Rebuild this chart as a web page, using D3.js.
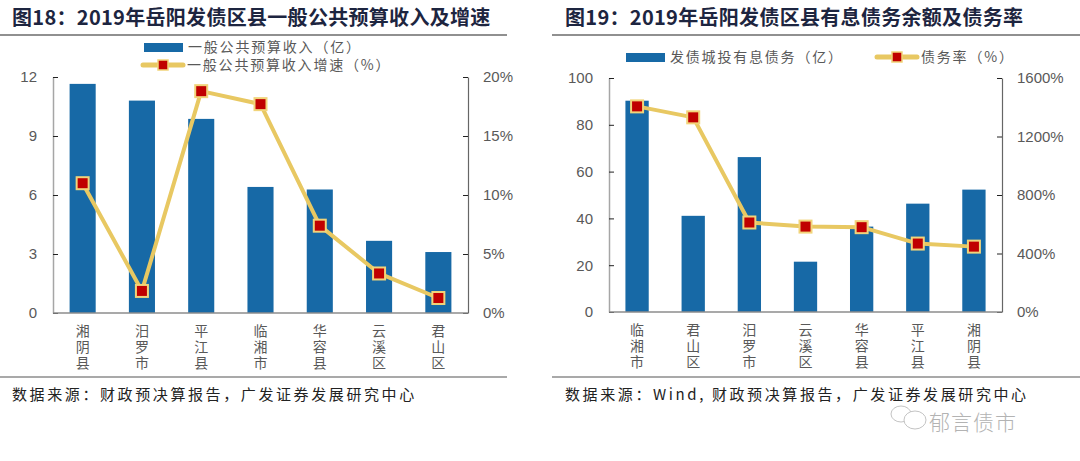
<!DOCTYPE html>
<html>
<head>
<meta charset="utf-8">
<script src="https://cdn.jsdelivr.net/npm/d3@7"></script>
<style>
	body { margin: 0; background: #fff; }
	svg { display: block; }
</style>
</head>
<body>
<div id="chart"></div>
<script>
// 图18 data
var cats18 = ['湘阴县', '汨罗市', '平江县', '临湘市', '华容县', '云溪区', '君山区']
var revenue18 = [11.65, 10.8, 9.87, 6.41, 6.28, 3.67, 3.1]
var growth18 = [11.0, 1.87, 18.8, 17.7, 7.4, 3.35, 1.27]
var leftTicks18 = [0, 3, 6, 9, 12]
var rightTicks18 = [0, 5, 10, 15, 20]

// 图19 data
var cats19 = ['临湘市', '君山区', '汨罗市', '云溪区', '华容县', '平江县', '湘阴县']
var debt19 = [90.3, 41.1, 66.2, 21.5, 36.5, 46.3, 52.3]
var ratio19 = [1406, 1331, 612, 584, 580, 468, 447]
var leftTicks19 = [0, 20, 40, 60, 80, 100]
var rightTicks19 = [0, 400, 800, 1200, 1600]

var width = 1080
var height = 461
var cjk = '"Noto Sans CJK SC", "Noto Sans", sans-serif'
var latin = '"Liberation Sans", Arial, sans-serif'
var barColor = '#1769a6'
var lineColor = '#e8c862'
var markColor = '#c00000'

var svg = d3.select('#chart')
	.append('svg')
	.attr('width', width)
	.attr('height', height)

function drawPanel(p) {
	var g = svg.append('g')

	// title + rule
	g.append('text')
		.attr('x', p.titleX)
		.attr('y', 25)
		.style('font-family', cjk)
		.style('font-weight', 'bold')
		.style('font-size', '20px')
		.style('letter-spacing', '0.3px')
		.style('fill', '#1d2540')
		.text(p.title)
	g.append('line')
		.attr('x1', p.ruleX1).attr('x2', p.ruleX2)
		.attr('y1', 35).attr('y2', 35)
		.style('stroke', '#222').style('stroke-width', 1.2)

	var x = d3.scaleBand()
		.domain(p.cats)
		.range([p.left, p.right])
		.paddingInner(p.pad)
		.paddingOuter(p.pad / 2)
	var yL = d3.scaleLinear().domain([0, p.leftMax]).range([p.bottom, p.top])
	var yR = d3.scaleLinear().domain([0, p.rightMax]).range([p.bottom, p.top])

	// bars
	g.append('g')
		.selectAll('rect')
		.data(p.bars)
		.enter()
		.append('rect')
		.attr('x', (d, i) => x(p.cats[i]))
		.attr('width', x.bandwidth())
		.attr('y', d => yL(d))
		.attr('height', d => p.bottom - yL(d))
		.style('fill', barColor)

	// axes
	var axL = g.append('g')
		.attr('transform', 'translate(' + p.left + ',0)')
		.call(d3.axisLeft(yL).tickValues(p.leftTicks).tickSizeInner(-5).tickSizeOuter(0).tickPadding(16))
	var axR = g.append('g')
		.attr('transform', 'translate(' + p.right + ',0)')
		.call(d3.axisRight(yR).tickValues(p.rightTicks).tickSizeInner(-5).tickSizeOuter(0).tickPadding(15)
			.tickFormat(d => d + '%'))
	axL.select('.domain').style('stroke', '#a6a6a6').style('stroke-width', 1.5)
	axR.select('.domain').style('stroke', '#666').style('stroke-width', 1.2)
	;[axL, axR].forEach(a => {
		a.selectAll('.tick line').style('stroke', '#222')
		a.selectAll('.tick text')
			.style('font-family', latin)
			.style('font-size', '15px')
			.style('fill', '#595959')
	})

	g.append('line')
		.attr('x1', p.left).attr('x2', p.right)
		.attr('y1', p.bottom).attr('y2', p.bottom)
		.style('stroke', '#8c8c8c').style('stroke-width', 1.5)

	// vertical category labels
	g.append('g')
		.selectAll('text')
		.data(p.cats)
		.enter()
		.append('text')
		.attr('x', d => x(d) + x.bandwidth() / 2)
		.attr('y', p.bottom + 11)
		.attr('writing-mode', 'vertical-rl')
		.style('font-family', cjk)
		.style('font-size', '14px')
		.style('letter-spacing', '2px')
		.style('fill', '#595959')
		.text(d => d)

	// line + markers
	var line = d3.line()
		.x((d, i) => x(p.cats[i]) + x.bandwidth() / 2)
		.y(d => yR(d))
	g.append('path')
		.datum(p.line)
		.attr('d', line)
		.style('fill', 'none')
		.style('stroke', lineColor)
		.style('stroke-width', 4)
		.style('stroke-linejoin', 'round')
	g.append('g')
		.selectAll('rect')
		.data(p.line)
		.enter()
		.append('rect')
		.attr('x', (d, i) => x(p.cats[i]) + x.bandwidth() / 2 - 6)
		.attr('y', d => yR(d) - 6)
		.attr('width', 12)
		.attr('height', 12)
		.style('fill', markColor)
		.style('stroke', '#f1d47a')
		.style('stroke-width', 2)

	// legend
	p.legend.forEach(l => {
		if (l.type === 'bar') {
			g.append('rect')
				.attr('x', l.x).attr('y', l.y - 4)
				.attr('width', 39).attr('height', 9)
				.style('fill', barColor)
		} else {
			g.append('line')
				.attr('x1', l.x).attr('x2', l.x + 40)
				.attr('y1', l.y).attr('y2', l.y)
				.style('stroke', lineColor).style('stroke-width', 5)
				.style('stroke-linecap', 'round')
			g.append('rect')
				.attr('x', l.x + 15).attr('y', l.y - 5)
				.attr('width', 10).attr('height', 10)
				.style('fill', markColor)
				.style('stroke', '#f1d47a').style('stroke-width', 1.5)
		}
		g.append('text')
			.attr('x', l.x + 44)
			.attr('y', l.y + 5)
			.style('font-family', cjk)
			.style('font-size', '14px')
			.style('letter-spacing', '1.8px')
			.style('fill', '#595959')
			.text(l.label)
	})

	// bottom rule + source
	g.append('line')
		.attr('x1', p.ruleX1).attr('x2', p.ruleX2)
		.attr('y1', 377).attr('y2', 377)
		.style('stroke', '#555').style('stroke-width', 1.2)
	g.append('text')
		.attr('x', p.titleX)
		.attr('y', 400)
		.style('font-family', cjk)
		.style('font-size', '15px')
		.style('letter-spacing', '2.6px')
		.style('fill', '#222')
		.text(p.source)
}

drawPanel({
	title: '图18：2019年岳阳发债区县一般公共预算收入及增速',
	titleX: 12, ruleX1: 0, ruleX2: 507,
	cats: cats18, bars: revenue18, line: growth18,
	leftMax: 12, rightMax: 20,
	leftTicks: leftTicks18, rightTicks: rightTicks18,
	left: 53, right: 468, top: 77, bottom: 313, pad: 0.56,
	legend: [
		{type: 'bar', x: 144, y: 47, label: '一般公共预算收入（亿）'},
		{type: 'line', x: 143, y: 65, label: '一般公共预算收入增速（%）'}
	],
	source: '数据来源：财政预决算报告，广发证券发展研究中心'
})

drawPanel({
	title: '图19：2019年岳阳发债区县有息债务余额及债务率',
	titleX: 565, ruleX1: 552, ruleX2: 1080,
	cats: cats19, bars: debt19, line: ratio19,
	leftMax: 100, rightMax: 1600,
	leftTicks: leftTicks19, rightTicks: rightTicks19,
	left: 609, right: 1002, top: 78, bottom: 312, pad: 0.585,
	legend: [
		{type: 'bar', x: 626, y: 57, label: '发债城投有息债务（亿）'},
		{type: 'line', x: 877, y: 57, label: '债务率（%）'}
	],
	source: '数据来源：Wind, 财政预决算报告，广发证券发展研究中心'
})

// watermark
var wm = svg.append('g').style('opacity', 0.75)
wm.append('ellipse').attr('cx', 901).attr('cy', 414).attr('rx', 10).attr('ry', 8)
	.style('fill', 'none').style('stroke', '#b0b0b0').style('stroke-width', 1)
wm.append('ellipse').attr('cx', 915).attr('cy', 420).attr('rx', 11).attr('ry', 9)
	.style('fill', '#fff').style('stroke', '#b0b0b0').style('stroke-width', 1)
wm.append('text')
	.attr('x', 929).attr('y', 430)
	.style('font-family', cjk)
	.style('font-weight', 300)
	.style('font-size', '21px')
	.style('letter-spacing', '1px')
	.style('fill', '#9a9a9a')
	.text('郁言债市')
</script>
</body>
</html>
